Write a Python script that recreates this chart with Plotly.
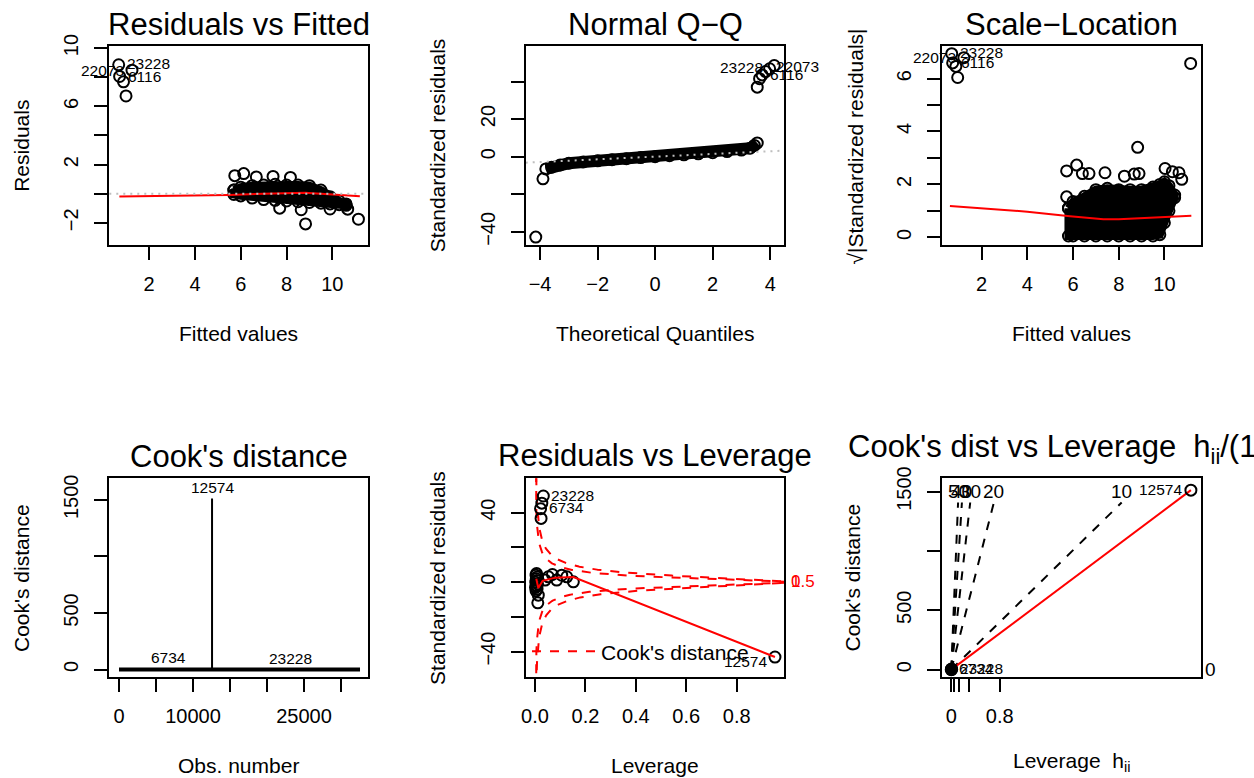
import numpy as np
import plotly.graph_objects as go
from plotly.subplots import make_subplots

W, H = 1254, 778
FONT = "Liberation Sans, Arial, Helvetica, sans-serif"

# ---------------- data ----------------
# Residuals vs Fitted
rf_out_fitted = [0.67, 1.25, 0.71, 0.88, 0.99, 5.74, 6.13, 6.68, 7.41, 8.17, 7.70, 8.64, 8.83, 9.90, 10.67, 11.14]
rf_out_resid = [8.85, 8.48, 8.05, 7.68, 6.71, 1.24, 1.38, 1.15, 1.19, 1.12, -0.99, -1.10, -2.07, -1.05, -1.06, -1.75]
rf_env_fitted = [5.7, 6.0, 6.5, 7.0, 7.5, 8.0, 8.5, 9.0, 9.5, 9.9, 10.3, 10.6]
rf_env_hi = [0.25, 0.45, 0.55, 0.6, 0.65, 0.6, 0.6, 0.55, 0.25, -0.2, -0.5, -0.7]
rf_env_lo = [-0.05, -0.15, -0.3, -0.4, -0.45, -0.5, -0.55, -0.6, -0.65, -0.7, -0.75, -0.8]
rf_smooth_x = [0.7, 3.0, 5.5, 7.0, 8.0, 8.8, 9.5, 10.3, 11.2]
rf_smooth_y = [-0.19, -0.14, -0.08, 0.0, 0.06, 0.06, 0.0, -0.08, -0.17]

# Normal Q-Q
qq_band_theo = [-3.8, -3.6, -3.3, -3.0, -2.5, -2.0, -1.5, -1.0, -0.5, 0.0, 0.5, 1.0, 1.5, 2.0, 2.5, 3.0, 3.3, 3.45, 3.55]
qq_band_std = [-6.5, -5.6, -4.4, -3.5, -2.8, -2.2, -1.6, -1.1, -0.5, 0.0, 0.5, 1.0, 1.5, 2.1, 2.7, 3.5, 4.5, 6.0, 7.3]
qq_out_theo = [-4.15, -3.9, 3.55, 3.63, 3.72, 3.84, 3.98, 4.14]
qq_out_std = [-42.8, -11.8, 37.0, 41.5, 43.5, 45.3, 46.8, 48.5]
qq_line_theo = [-4.5, 4.5]
qq_line_std = [-3.2, 3.25]

# Scale-Location
sl_out_fitted = [0.69, 1.22, 0.73, 0.87, 0.95, 11.15, 8.83, 5.72, 6.16, 6.41, 6.70, 7.40, 8.25, 8.68, 8.89, 10.03, 10.35, 10.64, 10.76, 5.72]
sl_out_sqrt = [6.94, 6.79, 6.59, 6.46, 6.04, 6.57, 3.40, 2.51, 2.73, 2.41, 2.41, 2.44, 2.31, 2.39, 2.41, 2.60, 2.48, 2.44, 2.19, 1.53]
sl_env_fitted = [5.8, 6.0, 6.5, 7.0, 7.5, 8.0, 8.5, 9.0, 9.5, 9.8, 10.0, 10.2, 10.45]
sl_env_hi = [1.1, 1.35, 1.55, 1.8, 1.85, 1.8, 1.8, 1.8, 1.9, 2.0, 2.1, 1.95, 1.6]
sl_env_lo = [0.05, 0.05, 0.05, 0.05, 0.05, 0.05, 0.05, 0.05, 0.05, 0.1, 0.55, 1.0, 1.5]
sl_smooth_x = [0.61, 2.0, 4.0, 5.87, 7.33, 8.0, 8.96, 10.04, 11.18]
sl_smooth_y = [1.18, 1.10, 0.97, 0.80, 0.68, 0.68, 0.72, 0.78, 0.82]

# Cook's distance
n_obs = 32570
cd_obs = [6734, 12574, 23228]
cd_val = [5, 1512, 4]

# Residuals vs Leverage
rl_h = [0.004, 0.008, 0.002, 0.006, 0.010, 0.003, 0.007, 0.005, 0.009, 0.004, 0.006,
        0.013, 0.011, 0.069, 0.106, 0.126, 0.152, 0.040, 0.086, 0.053,
        0.033, 0.027, 0.022, 0.024, 0.952]
rl_std = [-5, -4, -3, -2, -1, 0, 1, 2, 3, 4, 5,
          -7.5, -11.9, 4.4, 4.0, 3.1, 0.2, 1.2, 1.2, 3.1,
          49.6, 45.5, 42.3, 36.7, -43.1]
rl_labels = {20: "23228", 22: "6734", 24: "12574"}
rl_smooth_h = [0.005, 0.013, 0.03, 0.08, 0.152, 0.952]
rl_smooth_y = [2.0, -3.4, 0.8, 2.6, 3.0, -43.1]
cook_levels = [0.5, 1.0]
n_coef = 17

# Cook's dist vs Leverage
cl_g = [19.8]
cl_cook = [1512]
cl_cluster_g = [0.0, 0.02, 0.03]
cl_cluster_cook = [0, 5, 3]
cl_smooth_g = [0, 19.8]
cl_smooth_cook = [0, 1512]
cl_bval = [10, 20, 30, 40, 50]
cl_line_top = 1408
lev_ticks = [0, 0.2, 0.4, 0.6, 0.8]

# ---------------- figure ----------------
fig = make_subplots(rows=2, cols=3)

circ = dict(symbol="circle-open", size=11, color="black", line=dict(width=2, color="black"))


def pts(x, y, **kw):
    return go.Scatter(x=x, y=y, mode="markers", marker=circ, showlegend=False, hoverinfo="skip", **kw)


def line(x, y, color="red", width=2, dash=None, **kw):
    return go.Scatter(x=x, y=y, mode="lines", line=dict(color=color, width=width, dash=dash),
                      showlegend=False, hoverinfo="skip", **kw)


def blob(xs, hi, lo):
    # dense cloud of overlapping circles: filled envelope with a thick outline
    bx = list(xs) + list(xs)[::-1]
    by = list(hi) + list(lo)[::-1]
    return go.Scatter(x=bx + bx[:1], y=by + by[:1], mode="lines+markers", fill="toself",
                      fillcolor="black", line=dict(color="black", width=8), marker=circ,
                      showlegend=False, hoverinfo="skip")


GRAY_DOT = dict(color="#BEBEBE", width=2, dash="2px,5px")

# 1 Residuals vs Fitted
fig.add_trace(blob(rf_env_fitted, rf_env_hi, rf_env_lo), 1, 1)
fig.add_trace(pts(rf_out_fitted, rf_out_resid), 1, 1)
fig.add_trace(line(rf_smooth_x, rf_smooth_y), 1, 1)
fig.add_hline(y=0, line=GRAY_DOT, row=1, col=1)

# 2 Normal Q-Q
fig.add_trace(go.Scatter(x=qq_band_theo, y=qq_band_std, mode="lines+markers",
                         line=dict(color="black", width=12), marker=circ,
                         showlegend=False, hoverinfo="skip"), 1, 2)
fig.add_trace(pts(qq_out_theo, qq_out_std), 1, 2)
fig.add_trace(line(qq_line_theo, qq_line_std, color="#BEBEBE", dash="2px,5px"), 1, 2)

# 3 Scale-Location
fig.add_trace(blob(sl_env_fitted, sl_env_hi, sl_env_lo), 1, 3)
fig.add_trace(pts(sl_out_fitted, sl_out_sqrt), 1, 3)
fig.add_trace(line(sl_smooth_x, sl_smooth_y), 1, 3)

# 4 Cook's distance
fig.add_trace(line([1, n_obs], [0, 0], color="black", width=4), 2, 1)
sx, sy = [], []
for o, v in zip(cd_obs, cd_val):
    sx += [o, o, None]
    sy += [0, v, None]
fig.add_trace(line(sx, sy, color="black", width=2), 2, 1)

# 5 Residuals vs Leverage
fig.add_hline(y=0, line=GRAY_DOT, row=2, col=2)
fig.add_vline(x=0, line=GRAY_DOT, row=2, col=2)
hh = np.linspace(0.0004, 0.989, 400)
for k, lev in enumerate(cook_levels):
    cy = np.sqrt(lev * n_coef * (1 - hh) / hh)
    cx = list(hh) + [None] + list(hh)
    cyy = list(cy) + [None] + list(-cy)
    fig.add_trace(go.Scatter(x=cx, y=cyy, mode="lines", name="Cook's distance",
                             line=dict(color="red", width=2, dash="dash"),
                             showlegend=(k == 0), hoverinfo="skip"), 2, 2)
fig.add_trace(pts(rl_h, rl_std), 2, 2)
fig.add_trace(line(rl_smooth_h, rl_smooth_y), 2, 2)

# 6 Cook's dist vs Leverage
fig.add_hline(y=0, line=dict(color="black", width=2, dash="dash"), row=2, col=3)
bx, by = [], []
for b in cl_bval:
    bx += [0, cl_line_top / b ** 2, None]
    by += [0, cl_line_top, None]
fig.add_trace(line(bx, by, color="black", dash="dash"), 2, 3)
fig.add_trace(line(cl_smooth_g, cl_smooth_cook), 2, 3)
fig.add_trace(go.Scatter(x=cl_cluster_g, y=cl_cluster_cook, mode="markers",
                         marker=dict(symbol="circle", size=13, color="black"),
                         showlegend=False, hoverinfo="skip"), 2, 3)
fig.add_trace(pts(cl_g, cl_cook), 2, 3)

# ---------------- axes ----------------
cols_px = [(109.3, 368.3), (525.7, 784.3), (941.7, 1200.7)]
rows_px = [(46.0, 245.0), (478.3, 677.0)]

axes = {
    (1, 1): ([0.26, 11.57], [-3.52, 10.14], [2, 4, 6, 8, 10], ["2", "4", "6", "8", "10"],
             [-2, 0, 2, 4, 6, 8, 10], ["−2", " ", "2", " ", "6", " ", "10"]),
    (1, 2): ([-4.5, 4.49], [-47, 58.9], [-4, -2, 0, 2, 4], ["−4", "−2", "0", "2", "4"],
             [-40, -20, 0, 20, 40], ["−40", " ", "0", "20", " "]),
    (1, 3): ([0.25, 11.59], [-0.29, 7.23], [2, 4, 6, 8, 10], ["2", "4", "6", "8", "10"],
             [0, 1, 2, 3, 4, 5, 6], ["0", " ", "2", " ", "4", " ", "6"]),
    (2, 1): ([-1310, 33690], [-66, 1690], [0, 5000, 10000, 15000, 20000, 25000, 30000],
             ["0", " ", "10000", " ", " ", "25000", " "], [0, 500, 1000, 1500], ["0", "500", " ", "1500"]),
    (2, 2): ([-0.037, 0.989], [-54.6, 59.8], [0, 0.2, 0.4, 0.6, 0.8], ["0.0", "0.2", "0.4", "0.6", "0.8"],
             [-40, -20, 0, 20, 40], ["−40", " ", "0", " ", "40"]),
    (2, 3): ([-0.79, 20.61], [-62, 1612], [a / (1 - a) for a in lev_ticks], ["0", " ", " ", " ", "0.8"],
             [0, 500, 1000, 1500], ["0", "500", " ", "1500"]),
}

common = dict(showline=True, mirror=True, linecolor="black", linewidth=2, ticks="outside",
              ticklen=13, tickwidth=2, tickcolor="black", showgrid=False, zeroline=False,
              tickfont=dict(size=20, family=FONT, color="black"), tickmode="array",
              automargin=False)

for (r, c), (xr, yr, xt, xl, yt, yl) in axes.items():
    x0, x1 = cols_px[c - 1]
    y0, y1 = rows_px[r - 1]
    fig.update_xaxes(range=xr, tickvals=xt, ticktext=xl, domain=[x0 / W, x1 / W],
                     tickangle=0, ticklabelstandoff=7, **common, row=r, col=c)
    fig.update_yaxes(range=yr, tickvals=yt, ticktext=yl, domain=[1 - y1 / H, 1 - y0 / H],
                     tickangle=-90, ticklabelstandoff=8, **common, row=r, col=c)

# ---------------- text ----------------
ann = []


def txt(text, x, y, size, xanchor="center", **kw):
    ann.append(dict(text=text, x=x / W, y=1 - y / H, xref="paper", yref="paper", showarrow=False,
                    xanchor=xanchor, yanchor="middle",
                    font=dict(size=size, family=FONT, color="black"), **kw))


titles = [("Residuals vs Fitted", 238.8, 24.2), ("Normal Q−Q", 655, 24.2), ("Scale−Location", 1071.2, 24.2),
          ("Cook's distance", 238.8, 456.7), ("Residuals vs Leverage", 655, 455.8)]
for t, x, y in titles:
    txt(t, x, y, 31)
txt("Cook's dist vs Leverage\u00a0 h<sub>ii</sub>/(1 − h<sub>ii</sub>)", 846, 449, 31, xanchor="left")

for t, x, y in [("Fitted values", 238.8, 333.4), ("Theoretical Quantiles", 655, 333.4),
                ("Fitted values", 1071.2, 333.4), ("Obs. number", 238.8, 765.5),
                ("Leverage", 655, 765.5), ("Leverage\u00a0 h<sub>ii</sub>", 1071.2, 761.7)]:
    txt(t, x, y, 21)
for t, x, y in [("Residuals", 21.3, 145.5), ("Standardized residuals", 437.8, 145.5),
                ("√|Standardized residuals|", 855, 146.5), ("Cook's distance", 21.3, 577.7),
                ("Standardized residuals", 437.2, 577.7), ("Cook's distance", 852.8, 577.7)]:
    txt(t, x, y, 21, textangle=-90)


def lab(text, x, y, xref, yref, side, dx=6, dy=0, size=15.5, color="black"):
    ann.append(dict(text=text, x=x, y=y, xref=xref, yref=yref, showarrow=False,
                    xanchor="left" if side > 0 else ("right" if side < 0 else "center"),
                    yanchor="middle",
                    xshift=dx * side, yshift=dy, font=dict(size=size, family=FONT, color=color)))


# point labels
lab("23228", rf_out_fitted[0], rf_out_resid[0], "x", "y", 1, dy=1)
lab("22073", rf_out_fitted[1], rf_out_resid[1], "x", "y", -1)
lab("6116", rf_out_fitted[2], rf_out_resid[2], "x", "y", 1)
lab("23228", qq_out_theo[7], qq_out_std[7], "x2", "y2", -1, dx=9, dy=-2)
lab("22073", qq_out_theo[5], qq_out_std[5], "x2", "y2", 1, dx=8, dy=5)
lab("6116", qq_out_theo[4], qq_out_std[4], "x2", "y2", 1, dx=6)
lab("23228", sl_out_fitted[0], sl_out_sqrt[0], "x3", "y3", 1, dy=1)
lab("22073", sl_out_fitted[1], sl_out_sqrt[1], "x3", "y3", -1)
lab("6116", sl_out_fitted[2], sl_out_sqrt[2], "x3", "y3", 1)
for o, v in zip(cd_obs, cd_val):
    lab(str(o), o, v, "x4", "y4", 0, dy=11)
for i, t in rl_labels.items():
    side = -1 if rl_h[i] > 0.5 else 1
    lab(t, rl_h[i], rl_std[i], "x5", "y5", side, dx=6, dy=-4 if side < 0 else 1)
for lev in cook_levels:
    lab(str(lev).rstrip("0").rstrip("."), 1, 0.5, "x5 domain", "y5", 1, dx=5, size=17, color="red")
lab("12574", cl_g[0], cl_cook[0], "x6", "y6", -1, dx=7, dy=1)
lab("6734", cl_cluster_g[1], cl_cluster_cook[1], "x6", "y6", 1, dx=6, dy=1)
lab("23228", cl_cluster_g[2], cl_cluster_cook[2], "x6", "y6", 1, dx=6, dy=1)
for b in cl_bval:
    lab(str(b), cl_line_top / b ** 2, cl_line_top, "x6", "y6", 0, dy=11, size=19)
lab("0", 1, 0, "x6 domain", "y6", 1, dx=2, size=19)

fig.update_layout(
    width=W, height=H, margin=dict(l=0, r=0, t=0, b=0, autoexpand=False),
    paper_bgcolor="white", plot_bgcolor="white",
    font=dict(family=FONT, color="black"),
    annotations=ann,
    showlegend=True,
    legend=dict(x=527 / W, y=1 - 651.7 / H, xanchor="left", yanchor="middle",
                bgcolor="rgba(0,0,0,0)", font=dict(size=21, family=FONT, color="black"),
                itemwidth=64),
)

fig.write_html("out.html", config={"displayModeBar": False},
               post_script="document.body.style.margin='0';")
